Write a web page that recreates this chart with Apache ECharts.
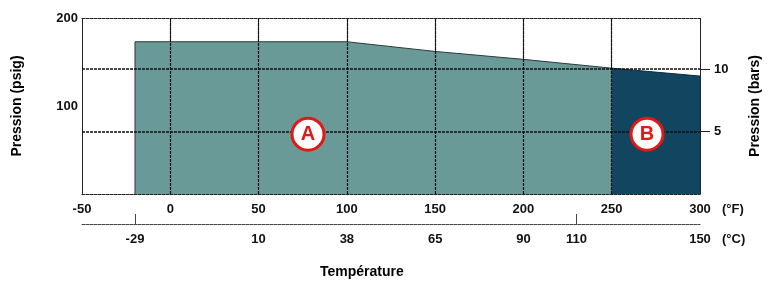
<!DOCTYPE html>
<html lang="fr">
<head>
    <meta charset="UTF-8">
    <title>Pression / Température</title>
    <script src="https://cdn.jsdelivr.net/npm/echarts@6/dist/echarts.min.js"></script>
    <style>
        html, body { margin: 0; padding: 0; background: #fff; }
        #main { width: 768px; height: 282px; }
    </style>
</head>
<body>
<div id="main"></div>
<script>
    // zone A : limite pression (psig) en fonction de la température (°F)
    var zoneA = [[-20, 0], [-20, 173], [100, 173], [150, 162], [200, 153], [250, 143]];
    // zone B : fin de la courbe, de 250 à 300 °F
    var zoneB = [[250, 143], [300, 134]];
    // repères A et B
    var repereA = [[78, 68]];
    var repereB = [[270, 68]];
    // échelle °C placée sous l'axe °F (position en °F, libellé en °C)
    var celsiusPos = [-20, 50, 100, 150, 200, 230, 300];
    var celsiusTxt = ['-29', '10', '38', '65', '90', '110', '150'];
    var celsiusTicks = [-20, 230];
    // graduations en bars
    var barTicks = [5, 10];

    var font = '"Liberation Sans", Arial, sans-serif';
    var dash = [3, 1];

    var myChart = echarts.init(document.getElementById('main'));
    var option = {
        animation: false,
        title: {
            text: 'Température',
            left: 315, top: 260,
            textStyle: { fontFamily: font, fontSize: 14, fontWeight: 'bold', color: '#000' }
        },
        grid: { left: 82, right: 68, top: 18, bottom: 88, outerBoundsMode: 'none' },
        xAxis: [
            {
                type: 'value', min: -50, max: 300, interval: 50,
                name: '(°F)', nameLocation: 'end', nameGap: 22,
                nameTextStyle: { fontFamily: font, fontSize: 13, fontWeight: 'bold', color: '#111', verticalAlign: 'top', padding: [9, 0, 0, 0] },
                axisLine: { show: true, onZero: false, lineStyle: { color: '#222', type: dash } },
                axisTick: { show: false },
                axisLabel: { fontFamily: font, fontSize: 13, fontWeight: 'bold', color: '#111', margin: 9 },
                splitLine: { show: true, lineStyle: { color: '#222', type: dash, width: 1 } }
            },
            {
                type: 'value', min: -50, max: 300, position: 'bottom', offset: 30,
                name: '(°C)', nameLocation: 'end', nameGap: 22,
                nameTextStyle: { fontFamily: font, fontSize: 13, fontWeight: 'bold', color: '#111', verticalAlign: 'top', padding: [9, 0, 0, 0] },
                axisLine: { show: true, onZero: false, lineStyle: { color: '#444', type: dash } },
                axisTick: { show: true, inside: true, length: 10, customValues: celsiusTicks, lineStyle: { color: '#444' } },
                axisLabel: {
                    fontFamily: font, fontSize: 13, fontWeight: 'bold', color: '#111', margin: 9,
                    customValues: celsiusPos,
                    formatter: function (v) { return celsiusTxt[celsiusPos.indexOf(v)]; }
                },
                splitLine: { show: false }
            },
            {
                type: 'value', min: -50, max: 300, position: 'top',
                axisLine: { show: true, onZero: false, lineStyle: { color: '#222', type: dash } },
                axisTick: { show: false }, axisLabel: { show: false }, splitLine: { show: false }
            }
        ],
        yAxis: [
            {
                type: 'value', min: 0, max: 200, interval: 100,
                name: 'Pression (psig)', nameLocation: 'middle', nameGap: 58, nameRotate: 90,
                nameTextStyle: { fontFamily: font, fontSize: 14, fontWeight: 'bold', color: '#000' },
                axisLine: { show: true, onZero: false, lineStyle: { color: '#222', type: dash } },
                axisTick: { show: false },
                axisLabel: {
                    fontFamily: font, fontSize: 13, fontWeight: 'bold', color: '#111', margin: 4,
                    formatter: function (v) { return v === 0 ? '' : v; }
                },
                splitLine: { show: false }
            },
            {
                type: 'value', min: 0, max: 14.1, position: 'right',
                name: 'Pression (bars)', nameLocation: 'middle', nameGap: 48, nameRotate: 90,
                nameTextStyle: { fontFamily: font, fontSize: 14, fontWeight: 'bold', color: '#000' },
                axisLine: { show: true, onZero: false, lineStyle: { color: '#222', type: dash } },
                axisTick: { show: true, length: 10, customValues: barTicks, lineStyle: { color: '#222' } },
                axisLabel: {
                    fontFamily: font, fontSize: 13, fontWeight: 'bold', color: '#111', margin: 14,
                    customValues: barTicks
                },
                splitLine: { show: false }
            }
        ],
        series: [
            {
                type: 'line', data: zoneA, symbol: 'none', z: 1,
                lineStyle: { color: '#2b3b3b', width: 1 },
                areaStyle: { color: '#6a9a98', opacity: 1 }
            },
            {
                type: 'line', data: zoneB, symbol: 'none', z: 1,
                lineStyle: { color: '#0b2a3a', width: 1 },
                areaStyle: { color: '#124660', opacity: 1 }
            },
            {
                // lignes horizontales des bars, par-dessus le remplissage
                type: 'line', yAxisIndex: 1, data: [], z: 3, silent: true,
                markLine: {
                    symbol: 'none', silent: true, label: { show: false },
                    lineStyle: { color: '#111', type: dash, width: 1.5 },
                    data: barTicks.map(function (b) { return { yAxis: b }; })
                }
            },
            {
                type: 'line', data: [], z: 3, silent: true,
                markLine: {
                    symbol: 'none', silent: true, label: { show: false },
                    lineStyle: { color: '#111', type: dash, width: 1.2 },
                    data: [0, 50, 100, 150, 200, 250].map(function (f) { return { xAxis: f }; })
                }
            },
            {
                type: 'scatter', data: repereA, z: 5, symbol: 'circle', symbolSize: 32,
                itemStyle: { color: '#fff', opacity: 1, borderColor: '#e01818', borderWidth: 3 },
                label: { show: true, formatter: 'A', position: 'inside', color: '#e01818', fontFamily: font, fontSize: 20, fontWeight: 'bold' }
            },
            {
                type: 'scatter', data: repereB, z: 5, symbol: 'circle', symbolSize: 32,
                itemStyle: { color: '#fff', opacity: 1, borderColor: '#e01818', borderWidth: 3 },
                label: { show: true, formatter: 'B', position: 'inside', color: '#e01818', fontFamily: font, fontSize: 20, fontWeight: 'bold' }
            }
        ]
    };
    myChart.setOption(option);
</script>
</body>
</html>
